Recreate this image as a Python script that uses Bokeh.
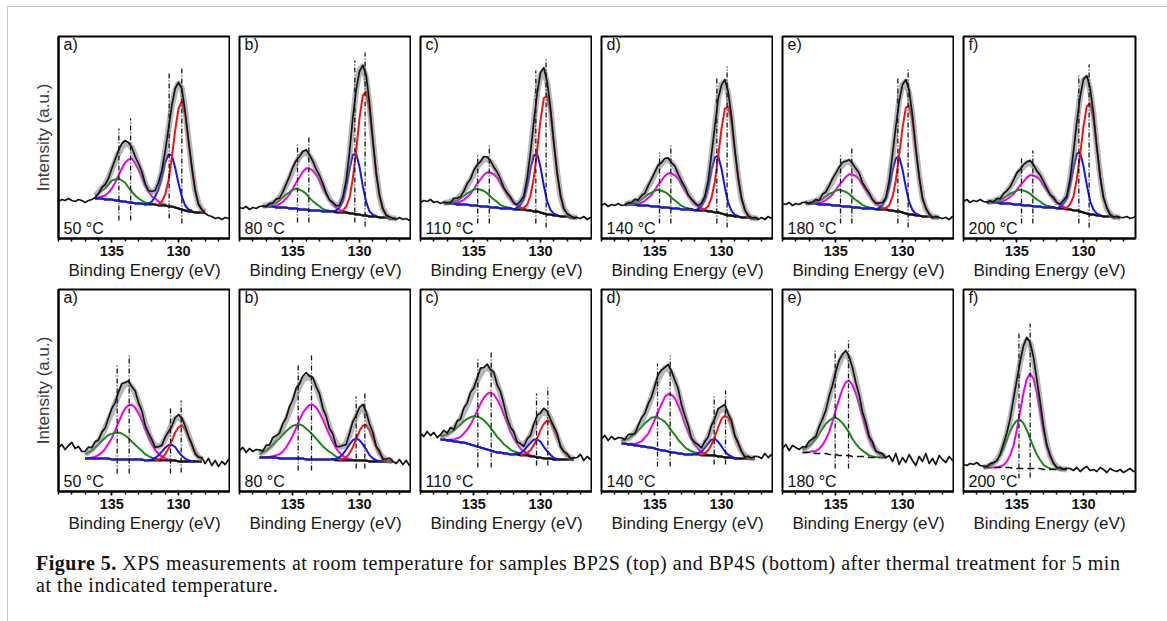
import numpy as np
from bokeh.plotting import figure
from bokeh.layouts import row, column
from bokeh.models import Range1d, FixedTicker, Div
from bokeh.embed import file_html
from bokeh.resources import INLINE
from bokeh.core.properties import value

# ---------------------------------------------------------------- axes / text
STEP = 0.25
X_START, X_END = 139.0, 126.1     # binding-energy axis (reversed)
Y_MAX = 202                       # intensity axis, arbitrary units
MAJOR_TICKS = [135, 130]
MINOR_TICKS = [126, 127, 128, 129, 130, 131, 132, 133, 134, 135, 136, 137, 138, 139]
TAGS = ["a)", "b)", "c)", "d)", "e)", "f)"]
TEMPS = ["50 °C", "80 °C", "110 °C", "140 °C", "180 °C", "200 °C"]
X_LABEL = "Binding Energy (eV)"
Y_LABEL = "Intensity (a.u.)"
CAPTION_HEAD = "Figure 5."
CAPTION_LINE1 = "XPS measurements at room temperature for samples BP2S (top) and BP4S (bottom) after thermal treatment for 5 min"
CAPTION_LINE2 = "at the indicated temperature."

# ============================================================ TOP ROW (BP2S)
# components are heights above the background, on a 0.25 eV grid from *_START
# --- a) 50 C
TA_START = 136.25
TA_BG = [40, 40, 40, 39, 39, 39, 38, 38, 37, 37, 36, 36, 35, 35, 35, 34, 34, 34, 34, 33, 33, 33, 32, 32, 31, 30, 29, 28, 27, 27, 26, 26, 26, 26]
TA_GREEN = [3, 5, 8, 11, 15, 19, 21, 22, 21, 19, 15, 11, 8, 5, 3, 2, 1, 1] + [0] * 16
TA_MAGENTA = [0, 1, 2, 4, 7, 11, 18, 25, 33, 39, 43, 44, 40, 34, 27, 19, 13, 8, 6, 4, 2, 1] + [0] * 12
TA_BLUE = [0] * 16 + [1, 3, 8, 16, 28, 43, 52, 51, 40, 25, 13, 5, 2, 1] + [0] * 4
TA_RED = [0] * 19 + [1, 4, 11, 26, 49, 77, 100, 108, 96, 70, 43, 22, 9, 3, 1]
TA_RESID = [-2, -1, 1, 0, -1, 1, 2, 3, 4, 3, 2, 0, -1, 1, 2, 0, -1, 1, 0, 2, 1, -1, 0, 1, 2, 1, 0, -2, -1, 1, 0, -1, 0, -2]
TA_LEFT = [37, 39, 38, 40, 38, 37, 39, 38, 36, 38, 39]
TA_RIGHT = [23, 22, 20, 21, 19, 21, 20, 19]
TA_PEAKS = [134.47, 133.59, 130.7, 129.75]
TA_PEAK_TOP = [110, 120, 165, 171]
TA_PEAK_BOT = [18, 18, 20, 15]

# --- b) 80 C
TB_START = 137.25
TB_BG = [32, 32, 32, 32, 31, 31, 31, 31, 30, 30, 30, 29, 29, 29, 28, 28, 28, 28, 27, 27, 27, 27, 26, 26, 26, 26, 25, 25, 24, 24, 23, 23, 22, 22, 22, 21, 21, 21, 20, 20, 20]
TB_GREEN = [0.4, 0.8, 1.6, 2.8, 4.6, 7, 10, 13.2, 16.2, 18.6, 19.8, 19.8, 18.2, 15.6, 12.6, 9.4, 6.6, 4.2, 2.5, 1.4, 0.7, 0.4, 0.2, 0.1] + [0] * 17
TB_MAGENTA = [0.1, 0.2, 0.4, 0.9, 1.8, 3.4, 5.7, 9.2, 13.9, 19.7, 26, 32.3, 37.8, 41.2, 42, 39.9, 35.7, 29.8, 23.5, 17.2, 11.8, 7.6, 4.6, 2.6, 1.4, 0.7, 0.3, 0.1] + [0] * 13
TB_BLUE = [0] * 21 + [0.2, 1.9, 5, 11.2, 25.4, 44, 58.9, 60.8, 47.7, 29.1, 13.6, 5, 1.9, 0.6] + [0] * 6
TB_RED = [0] * 23 + [0.5, 1.8, 5.9, 15.6, 35, 63.8, 96.3, 120, 123.8, 106.3, 75, 43.8, 21.3, 8.8, 2.9, 0.8, 0.3, 0]
TB_RESID = [0, -1, 1, 0, 2, -1, 0, 1, 2, 3, 2, 1, 2, 3, 1, 0, -1, 1, 2, 0, -1, 1, 0, -1, 1, 0, 1, 2, 0, -1, 1, 3, 2, 0, -1, 1, 0, -1, 1, 0, -1]
TB_LEFT = [31, 30, 32, 29, 31, 30, 32]
TB_RIGHT = [21, 19, 20, 18, 20]
TB_PEAKS = [134.65, 133.8, 130.35, 129.58]
TB_PEAK_TOP = [95, 103, 178, 186]
TB_PEAK_BOT = [16, 16, 16, 12]

# --- c) 110 C
TC_START = 137.25
TC_BG = [35, 35, 35, 35, 34, 34, 34, 34, 33, 33, 33, 32, 32, 32, 31, 31, 31, 30, 30, 30, 30, 29, 29, 29, 29, 28, 28, 27, 27, 26, 25, 24, 24, 23, 23, 22, 22, 22, 21, 21, 21]
TC_GREEN = [0.4, 0.7, 1.4, 2.4, 3.9, 6, 8.5, 11.2, 13.8, 15.8, 16.8, 16.8, 15.5, 13.3, 10.7, 8, 5.6, 3.6, 2.1, 1.2, 0.6, 0.3, 0.1, 0.1] + [0] * 17
TC_MAGENTA = [0.1, 0.2, 0.4, 0.8, 1.5, 2.8, 4.7, 7.7, 11.6, 16.5, 21.7, 27, 31.5, 34.3, 35, 33.3, 29.8, 24.9, 19.6, 14.4, 9.8, 6.3, 3.9, 2.2, 1.2, 0.6, 0.2, 0.1] + [0] * 13
TC_BLUE = [0] * 21 + [0.2, 1.8, 4.7, 10.6, 24.2, 41.9, 56, 57.8, 45.4, 27.7, 13, 4.7, 1.8, 0.6] + [0] * 6
TC_RED = [0] * 23 + [0.5, 1.7, 5.6, 15, 33.6, 61.2, 92.4, 115.2, 118.8, 102, 72, 42, 20.4, 8.4, 2.8, 0.7, 0.2, 0]
TC_RESID = [1, 0, -1, 2, 1, -1, 0, 2, 1, 3, 2, 1, 3, 2, 1, -1, 0, 1, -1, 0, 1, 0, -1, 1, 0, 2, 1, 0, -1, 2, 3, 1, 0, -1, 0, 1, -1, 0, 1, -1, 0]
TC_LEFT = [36, 38, 37, 39, 36, 37, 35]
TC_RIGHT = [20, 22, 19, 21, 20]
TC_PEAKS = [134.71, 133.84, 130.35, 129.58]
TC_PEAK_TOP = [85, 94, 168, 180]
TC_PEAK_BOT = [15, 15, 15, 11]

# --- d) 140 C
TD_START = 137.25
TD_BG = [34, 34, 34, 34, 33, 33, 33, 33, 32, 32, 32, 31, 31, 31, 30, 30, 30, 29, 29, 29, 29, 28, 28, 28, 28, 27, 27, 26, 26, 25, 24, 23, 23, 22, 22, 21, 21, 21, 20, 20, 20]
TD_GREEN = [0.4, 0.7, 1.4, 2.4, 3.9, 6, 8.5, 11.2, 13.8, 15.8, 16.8, 16.8, 15.5, 13.3, 10.7, 8, 5.6, 3.6, 2.1, 1.2, 0.6, 0.3, 0.1, 0.1] + [0] * 17
TD_MAGENTA = [0.1, 0.2, 0.4, 0.8, 1.5, 2.8, 4.7, 7.7, 11.6, 16.5, 21.7, 27, 31.5, 34.3, 35, 33.3, 29.8, 24.9, 19.6, 14.4, 9.8, 6.3, 3.9, 2.2, 1.2, 0.6, 0.2, 0.1] + [0] * 13
TD_BLUE = [0] * 21 + [0.2, 1.7, 4.6, 10.4, 23.8, 41.2, 55.1, 56.8, 44.7, 27.3, 12.8, 4.6, 1.7, 0.6] + [0] * 6
TD_RED = [0] * 23 + [0.4, 1.5, 5.2, 13.8, 30.8, 56.1, 84.7, 105.6, 108.9, 93.5, 66, 38.5, 18.7, 7.7, 2.5, 0.7, 0.2, 0]
TD_RESID = [-1, 1, 0, 2, 0, 1, -1, 1, 2, 2, 3, 1, 2, 2, 0, 1, -1, 0, 1, -1, 0, 1, -1, 0, 1, 1, 2, 0, 1, -1, 2, 2, 1, -1, 0, 1, 0, -1, 0, 1, -1]
TD_LEFT = [33, 35, 32, 34, 33, 35, 33]
TD_RIGHT = [21, 19, 22, 20, 21]
TD_PEAKS = [134.65, 133.8, 130.35, 129.58]
TD_PEAK_TOP = [86, 94, 160, 172]
TD_PEAK_BOT = [15, 15, 15, 11]

# --- e) 180 C
TE_START = 137.25
TE_BG = [35, 35, 35, 35, 34, 34, 34, 34, 33, 33, 33, 32, 32, 32, 31, 31, 31, 30, 30, 30, 30, 29, 29, 29, 29, 28, 28, 27, 27, 26, 25, 24, 24, 23, 23, 22, 22, 22, 21, 21, 21]
TE_GREEN = [0.3, 0.7, 1.3, 2.2, 3.7, 5.6, 8, 10.6, 13, 14.9, 15.8, 15.8, 14.6, 12.5, 10.1, 7.5, 5.3, 3.4, 2, 1.1, 0.6, 0.3, 0.1, 0] + [0] * 17
TE_MAGENTA = [0.1, 0.2, 0.3, 0.7, 1.4, 2.6, 4.5, 7.3, 10.9, 15.5, 20.5, 25.4, 29.7, 32.3, 33, 31.4, 28.1, 23.4, 18.5, 13.5, 9.2, 5.9, 3.6, 2.1, 1.1, 0.5, 0.2, 0.1] + [0] * 13
TE_BLUE = [0] * 21 + [0.2, 1.7, 4.5, 10.1, 23, 39.8, 53.2, 54.9, 43.1, 26.3, 12.3, 4.5, 1.7, 0.6] + [0] * 6
TE_RED = [0] * 23 + [0.4, 1.5, 5.2, 13.8, 30.8, 56.1, 84.7, 105.6, 108.9, 93.5, 66, 38.5, 18.7, 7.7, 2.5, 0.7, 0.2, 0]
TE_RESID = [1, -1, 0, 1, -1, 2, 0, 1, 3, 2, 2, 3, 1, 2, 1, 0, 1, -1, 0, 1, -1, 0, 1, 0, -1, 1, 2, 1, -1, 0, 2, 3, 1, -1, 0, -1, 1, 0, -1, 1, 0]
TE_LEFT = [35, 34, 36, 33, 35, 34, 36]
TE_RIGHT = [20, 21, 19, 22, 20]
TE_PEAKS = [134.65, 133.8, 130.35, 129.58]
TE_PEAK_TOP = [84, 92, 160, 170]
TE_PEAK_BOT = [15, 15, 15, 11]

# --- f) 200 C
TF_START = 137.25
TF_BG = [36, 36, 36, 36, 35, 35, 35, 35, 34, 34, 34, 33, 33, 33, 32, 32, 32, 31, 31, 31, 31, 30, 30, 30, 29, 29, 28, 28, 27, 26, 25, 24, 24, 23, 23, 22, 22, 22, 21, 21, 21]
TF_GREEN = [0.3, 0.6, 1.2, 2.1, 3.5, 5.3, 7.5, 9.9, 12.2, 14, 14.9, 14.9, 13.7, 11.7, 9.5, 7.1, 5, 3.2, 1.9, 1.1, 0.6, 0.3, 0.1, 0] + [0] * 17
TF_MAGENTA = [0.1, 0.2, 0.3, 0.7, 1.3, 2.5, 4.2, 6.8, 10.2, 14.6, 19.2, 23.9, 27.9, 30.4, 31, 29.5, 26.4, 22, 17.4, 12.7, 8.7, 5.6, 3.4, 2, 1, 0.5, 0.2, 0.1] + [0] * 13
TF_BLUE = [0] * 21 + [0.2, 1.8, 4.8, 10.8, 24.6, 42.6, 57, 58.8, 46.2, 28.2, 13.2, 4.8, 1.8, 0.6] + [0] * 6
TF_RED = [0] * 23 + [0.4, 1.6, 5.3, 14, 31.4, 57.1, 86.2, 107.5, 110.9, 95.2, 67.2, 39.2, 19, 7.8, 2.6, 0.7, 0.2, 0]
TF_RESID = [0, 1, -1, 1, 0, 2, 1, 0, 2, 3, 1, 2, 2, 3, 1, -1, 0, 1, 0, -1, 1, 0, -1, 1, 0, 1, 2, 0, -1, 1, 2, 2, 1, 0, -1, 0, 1, -1, 0, 1, 0]
TF_LEFT = [37, 39, 36, 38, 37, 39, 37]
TF_RIGHT = [21, 22, 20, 21, 23]
TF_PEAKS = [134.65, 133.8, 130.35, 129.58]
TF_PEAK_TOP = [80, 88, 164, 174]
TF_PEAK_BOT = [15, 15, 15, 11]

# ========================================================= BOTTOM ROW (BP4S)
# --- a) 50 C
BA_START = 137.0
BA_BG = [33, 33, 33, 33, 33, 33, 33, 33, 32, 32, 32, 32, 32, 32, 32, 32, 32, 32, 31, 31, 31, 31, 31, 31, 31, 31, 31, 31, 30, 30, 30, 30, 30, 30, 30, 30]
BA_GREEN = [4, 6, 8, 11, 14, 17.5, 20.8, 23.5, 25.6, 26.8, 27, 26, 24, 21.3, 18, 14.8, 11.6, 8.7, 6.3, 4.4, 2.9, 1.8, 1.1, 0.7, 0.4, 0.2, 0.1] + [0] * 9
BA_MAGENTA = [0.2, 0.5, 0.9, 1.9, 3.4, 5.9, 9.7, 14.9, 21.5, 29.1, 37.2, 44.9, 51, 54.4, 54.7, 51.8, 46.3, 39.2, 30.8, 22.8, 16, 10.5, 6.6, 3.9, 2.1, 1.1, 0.5, 0.2, 0.1] + [0] * 7
BA_BLUE = [0] * 19 + [0.3, 1, 2.5, 5.1, 8.8, 12.8, 15.5, 15.8, 13.5, 9.6, 5.7, 2.9, 1.2, 0.4, 0.1] + [0] * 2
BA_RED = [0] * 21 + [0.3, 1, 2.7, 6.1, 11.9, 19.8, 28, 34.2, 36, 32.3, 25, 16.2, 9.3, 4.5, 1.9]
BA_RESID = [3, 5, 2, 4, 1, 3, 0, 2, 4, 1, 3, 5, 2, 3, 0, 2, -1, 1, -2, 0, 1, -2, 0, -1, 2, 0, -2, 1, 3, 2, 0, -1, 1, -2, 0, 2]
BA_LEFT = [44, 47, 42, 46, 49, 43, 45, 40]
BA_RIGHT = [28, 33, 26, 31, 25, 30, 27, 32, 29]
BA_PEAKS = [134.6, 133.7, 130.6, 129.8]
BA_PEAK_TOP = [126, 136, 85, 91]
BA_PEAK_BOT = [18, 18, 18, 19]

# --- b) 80 C
BB_START = 137.5
BB_BG = [34, 34, 34, 34, 34, 34, 33, 33, 33, 33, 33, 33, 33, 33, 32, 32, 32, 32, 32, 32, 32, 32, 32, 31, 31, 31, 31, 31, 31, 31, 31, 31, 31, 30, 30, 30, 30, 30, 30, 30, 30]
BB_GREEN = [3.5, 5.1, 7.1, 9.8, 12.8, 16.3, 20, 23.8, 27.3, 30.3, 32.6, 33.8, 34, 32.9, 30.8, 27.9, 24.5, 20.8, 17, 13.3, 10.2, 7.5, 5.5, 3.8, 2.5, 1.6, 1, 0.6, 0.4, 0.2, 0.1] + [0] * 10
BB_MAGENTA = [0.1, 0.2, 0.3, 0.7, 1.3, 2.4, 4.3, 7.1, 11.2, 16.6, 23.1, 30.6, 38.6, 45.6, 51.2, 54.5, 54.8, 52.1, 46.8, 39.9, 32.2, 24.5, 17.6, 12, 7.7, 4.7, 2.7, 1.5, 0.8, 0.4, 0.2, 0.1] + [0] * 9
BB_BLUE = [0] * 22 + [0.5, 1.4, 3.2, 6.4, 11, 16.1, 20.4, 22, 20.4, 16.1, 11, 6.4, 3.2, 1.4, 0.5, 0.2] + [0] * 3
BB_RED = [0] * 24 + [0.4, 1.3, 3.2, 7.1, 13.3, 21.3, 29.5, 35, 35.6, 31, 23.1, 14.8, 8.1, 3.8, 1.5, 0.5, 0.2]
BB_RESID = [4, 1, 5, 2, 6, 3, 1, 4, 2, 5, 3, 6, 2, 4, 5, 1, 3, 0, 2, -2, 1, -1, 2, -3, 0, 1, -2, 2, 4, 1, 3, 5, 2, 0, 3, -1, 2, -2, 1, 3, 0]
BB_LEFT = [41, 44, 39, 43, 40, 42]
BB_RIGHT = [28, 32, 27, 31, 26, 30]
BB_PEAKS = [134.6, 133.6, 130.25, 129.6]
BB_PEAK_TOP = [128, 136, 95, 100]
BB_PEAK_BOT = [21, 21, 23, 23]

# --- c) 110 C
BC_START = 137.5
BC_BG = [52, 52, 51, 51, 50, 50, 49, 49, 48, 47, 46, 45, 44, 43, 42, 41, 40, 39, 39, 38, 38, 37, 37, 37, 36, 36, 36, 35, 35, 34, 34, 33, 33, 33, 32, 32, 32, 32, 32, 32, 32]
BC_GREEN = [2.7, 4, 5.9, 8.2, 11.1, 14.3, 17.8, 21.4, 24.6, 27.3, 29.2, 30, 29.6, 28.2, 25.8, 22.8, 19.3, 15.6, 12.3, 9.3, 6.8, 4.7, 3.2, 2, 1.3, 0.8, 0.5, 0.3, 0.1] + [0] * 12
BC_MAGENTA = [0.1, 0.2, 0.5, 0.9, 1.8, 3.3, 5.6, 9, 13.8, 19.9, 27.4, 35.6, 43.7, 50.8, 55.7, 58, 57, 53, 46.7, 38.9, 30.6, 22.8, 16.1, 10.7, 6.8, 4.1, 2.3, 1.2, 0.6, 0.3, 0.1] + [0] * 10
BC_BLUE = [0] * 22 + [0.3, 0.9, 2.4, 5, 9, 13.6, 17, 18, 15.8, 11.7, 7.3, 3.8, 1.6, 0.6, 0.2] + [0] * 4
BC_RED = [0] * 24 + [0.4, 1.1, 2.8, 6.1, 11.5, 19, 27.5, 34.5, 38, 36.4, 30.5, 22.4, 14.3, 8, 3.9, 1.7, 0.6]
BC_RESID = [2, 5, 1, 4, -1, 3, 0, 4, 2, 5, 1, 3, 6, 2, 4, 0, 3, -1, 2, 1, -2, 0, 3, -1, 1, -2, 2, 0, 3, 5, 1, 4, 2, -1, 1, 3, -2, 0, 2, -1, 1]
BC_LEFT = [58, 55, 60, 56, 59, 54]
BC_RIGHT = [34, 37, 31, 35, 32, 36]
BC_PEAKS = [134.7, 133.7, 130.3, 129.45]
BC_PEAK_TOP = [132, 140, 98, 104]
BC_PEAK_BOT = [24, 24, 26, 26]

# --- d) 140 C
BD_START = 137.5
BD_BG = [48, 48, 47, 47, 46, 46, 45, 45, 44, 44, 43, 42, 41, 41, 40, 39, 39, 38, 38, 37, 37, 37, 37, 37, 36, 36, 36, 36, 36, 35, 35, 34, 34, 34, 33, 33, 33, 33, 33, 33, 33]
BD_GREEN = [2.4, 3.8, 5.8, 8.4, 11.6, 15.1, 19.3, 23.2, 26.9, 29.8, 31.6, 32, 31, 28.8, 25.6, 21.8, 17.7, 13.7, 10.1, 7.3, 5, 3.2, 2, 1.2, 0.7, 0.4, 0.2, 0.1] + [0] * 13
BD_MAGENTA = [0.1, 0.1, 0.3, 0.7, 1.4, 2.8, 5.2, 8.8, 13.7, 20.6, 29, 38, 46.4, 53.4, 57.4, 57.7, 54.5, 48.1, 39.7, 30.7, 22.4, 15.2, 9.6, 5.7, 3.2, 1.7, 0.8, 0.4, 0.2, 0.1] + [0] * 11
BD_BLUE = [0] * 22 + [0.5, 1.6, 3.9, 7.6, 12.2, 15.9, 16.9, 14.7, 10.3, 6, 2.8, 1.1, 0.4, 0.1] + [0] * 5
BD_RED = [0] * 23 + [0.2, 0.8, 2.2, 5.3, 10.8, 18.9, 29, 37.6, 42, 39.9, 32.8, 23.1, 13.9, 7.1, 3.2, 1.2, 0.4, 0.1]
BD_RESID = [3, 0, 4, 1, -1, 2, 4, 1, 3, 0, 2, 5, 3, 1, 4, 2, 0, 3, -1, 1, 2, -2, 0, 1, -1, 2, 0, 3, 1, 4, 2, 5, 1, 3, -1, 2, 0, -2, 1, 0, 2]
BD_LEFT = [53, 56, 51, 55, 52, 54]
BD_RIGHT = [35, 33, 38, 34, 37, 35]
BD_PEAKS = [134.8, 133.85, 130.55, 129.7]
BD_PEAK_TOP = [128, 136, 95, 101]
BD_PEAK_BOT = [25, 25, 27, 27]

# --- e) 180 C
BE_START = 137.5
BE_BG = [39, 39, 39, 39, 38, 38, 38, 38, 37, 37, 37, 36, 36, 36, 36, 35, 35, 35, 35, 35, 34, 34, 34, 34, 34, 34]
BE_GREEN = [2.6, 4.3, 6.8, 10.3, 14.6, 19.5, 24.8, 29.8, 33.8, 36.3, 37, 35.6, 32.4, 27.9, 22.7, 17.5, 12.7, 8.8, 5.7, 3.6, 2.1, 1.1, 0.6, 0.3, 0.1, 0]
BE_MAGENTA = [0.1, 0.2, 0.5, 1.2, 2.4, 4.7, 8.6, 14.3, 22.6, 33, 45, 56.6, 66.7, 73.3, 75, 71.3, 63.1, 51.8, 39.9, 28.4, 18.9, 11.6, 6.8, 3.6, 1.8, 0.8]
BE_RESID = [3, 1, 4, 2, 0, 3, 1, -1, 2, 0, 1, 3, 2, 4, 1, 0, -2, 1, -1, 2, 0, 3, -1, 1, 2, -1]
BE_LEFT = [43, 47, 41, 46, 44, 42]
BE_RIGHT = [36, 30, 38, 27, 34, 29, 37, 31, 26, 35, 30, 38, 28, 33, 27, 36, 32, 29, 35, 31, 34]
BE_PEAKS = [135.05, 134.05]
BE_PEAK_TOP = [143, 153]
BE_PEAK_BOT = [23, 23]

# --- f) 200 C
BF_START = 137.5
BF_BG = [24, 24, 24, 24, 24, 24, 24, 24, 24, 23, 23, 23, 23, 23, 23, 23, 23, 23, 22, 22, 22, 22, 22, 22, 22, 22]
BF_GREEN = [0.4, 0.9, 1.9, 3.9, 7.3, 12.3, 19.3, 27.6, 36.2, 43.6, 48.1, 48.7, 45.2, 38.5, 30, 21.5, 14.1, 8.5, 4.7, 2.4, 1.1, 0.5, 0.2, 0.1, 0, 0]
BF_MAGENTA = [0, 0, 0, 0.1, 0.3, 0.9, 2.5, 5.9, 12.4, 23, 38.5, 57.2, 75.7, 89.7, 95, 89.7, 75.7, 57.2, 38.5, 23, 12.4, 5.9, 2.5, 0.9, 0.3, 0.1]
BF_RESID = [1, 0, 2, 1, -1, 0, 2, 1, 0, 3, 2, 1, 2, 3, 1, 0, -1, 1, 0, -1, 1, 0, -1, 1, 0, 1]
BF_LEFT = [27, 26, 28, 27, 29, 26]
BF_RIGHT = [23, 21, 24, 20, 23, 25, 21, 22, 20, 24, 22, 19, 23, 21, 20, 22, 19, 21, 23, 20, 21]
BF_PEAKS = [134.84, 134.0]
BF_PEAK_TOP = [158, 168]
BF_PEAK_BOT = [13, 14]

# ------------------------------------------------------------------ styling
GREEN, MAGENTA, BLUE, RED = "#178a17", "#f000f0", "#1414ff", "#ff1010"
FONT = "Liberation Sans"
FRAME_W, FRAME_H = 172, 202


def spec(start, bg, green, magenta, blue, red, resid, left, right, peaks, ptop, pbot, dashed_bg=False):
    return dict(start=start, bg=bg, green=green, magenta=magenta, blue=blue, red=red, resid=resid,
                left=left, right=right, peaks=peaks, ptop=ptop, pbot=pbot, dashed_bg=dashed_bg)


TOP = [
    spec(TA_START, TA_BG, TA_GREEN, TA_MAGENTA, TA_BLUE, TA_RED, TA_RESID, TA_LEFT, TA_RIGHT, TA_PEAKS, TA_PEAK_TOP, TA_PEAK_BOT),
    spec(TB_START, TB_BG, TB_GREEN, TB_MAGENTA, TB_BLUE, TB_RED, TB_RESID, TB_LEFT, TB_RIGHT, TB_PEAKS, TB_PEAK_TOP, TB_PEAK_BOT),
    spec(TC_START, TC_BG, TC_GREEN, TC_MAGENTA, TC_BLUE, TC_RED, TC_RESID, TC_LEFT, TC_RIGHT, TC_PEAKS, TC_PEAK_TOP, TC_PEAK_BOT),
    spec(TD_START, TD_BG, TD_GREEN, TD_MAGENTA, TD_BLUE, TD_RED, TD_RESID, TD_LEFT, TD_RIGHT, TD_PEAKS, TD_PEAK_TOP, TD_PEAK_BOT),
    spec(TE_START, TE_BG, TE_GREEN, TE_MAGENTA, TE_BLUE, TE_RED, TE_RESID, TE_LEFT, TE_RIGHT, TE_PEAKS, TE_PEAK_TOP, TE_PEAK_BOT),
    spec(TF_START, TF_BG, TF_GREEN, TF_MAGENTA, TF_BLUE, TF_RED, TF_RESID, TF_LEFT, TF_RIGHT, TF_PEAKS, TF_PEAK_TOP, TF_PEAK_BOT),
]
BOTTOM = [
    spec(BA_START, BA_BG, BA_GREEN, BA_MAGENTA, BA_BLUE, BA_RED, BA_RESID, BA_LEFT, BA_RIGHT, BA_PEAKS, BA_PEAK_TOP, BA_PEAK_BOT),
    spec(BB_START, BB_BG, BB_GREEN, BB_MAGENTA, BB_BLUE, BB_RED, BB_RESID, BB_LEFT, BB_RIGHT, BB_PEAKS, BB_PEAK_TOP, BB_PEAK_BOT),
    spec(BC_START, BC_BG, BC_GREEN, BC_MAGENTA, BC_BLUE, BC_RED, BC_RESID, BC_LEFT, BC_RIGHT, BC_PEAKS, BC_PEAK_TOP, BC_PEAK_BOT),
    spec(BD_START, BD_BG, BD_GREEN, BD_MAGENTA, BD_BLUE, BD_RED, BD_RESID, BD_LEFT, BD_RIGHT, BD_PEAKS, BD_PEAK_TOP, BD_PEAK_BOT),
    spec(BE_START, BE_BG, BE_GREEN, BE_MAGENTA, None, None, BE_RESID, BE_LEFT, BE_RIGHT, BE_PEAKS, BE_PEAK_TOP, BE_PEAK_BOT, True),
    spec(BF_START, BF_BG, BF_GREEN, BF_MAGENTA, None, None, BF_RESID, BF_LEFT, BF_RIGHT, BF_PEAKS, BF_PEAK_TOP, BF_PEAK_BOT, True),
]


def make_panel(s, col, top_row):
    p = figure(frame_width=FRAME_W, frame_height=FRAME_H,
               x_range=Range1d(X_START, X_END), y_range=Range1d(0, Y_MAX),
               output_backend="svg", toolbar_location=None,
               min_border_left=50 if col == 0 else 9,
               min_border_right=24 if col == 5 else 0,
               min_border_top=29 if top_row else 5,
               min_border_bottom=46 if top_row else 50)
    p.background_fill_color = "white"
    p.border_fill_color = "white"
    p.outline_line_color = "black"
    p.outline_line_width = 2
    p.outline_line_alpha = 1
    p.xgrid.visible = False
    p.ygrid.visible = False

    ax = p.xaxis[0]
    ax.ticker = FixedTicker(ticks=MAJOR_TICKS, minor_ticks=MINOR_TICKS)
    ax.axis_line_width = 2
    ax.major_tick_line_width = 1.5
    ax.minor_tick_line_width = 1.5
    ax.major_tick_in = 0
    ax.major_tick_out = 4
    ax.minor_tick_in = 0
    ax.minor_tick_out = 3
    ax.major_label_text_font = FONT
    ax.major_label_text_font_style = "bold"
    ax.major_label_text_font_size = "14.5px"
    ax.major_label_text_color = "#111111"
    ax.major_label_standoff = 3
    ax.axis_label = X_LABEL
    ax.axis_label_text_font = FONT
    ax.axis_label_text_font_style = "normal"
    ax.axis_label_text_font_size = "17px"
    ax.axis_label_text_color = "#1a1a1a"
    ax.axis_label_standoff = 2

    ay = p.yaxis[0]
    if col == 0:
        ay.ticker = FixedTicker(ticks=[])
        ay.major_tick_line_color = None
        ay.minor_tick_line_color = None
        ay.axis_line_width = 2
        ay.axis_label = Y_LABEL
        ay.axis_label_text_font = FONT
        ay.axis_label_text_font_style = "normal"
        ay.axis_label_text_font_size = "17px"
        ay.axis_label_text_color = "#3a3a3a"
        ay.axis_label_standoff = 6
    else:
        ay.visible = False

    n = len(s["bg"])
    xf = s["start"] - STEP * np.arange(n)
    bg = np.asarray(s["bg"], float)
    g = np.asarray(s["green"], float)
    m = np.asarray(s["magenta"], float)
    env = bg + g + m
    b = r = None
    if s["blue"] is not None:
        b = np.asarray(s["blue"], float)
        r = np.asarray(s["red"], float)
        env = env + b + r

    # components on the background
    p.line(xf, bg + m, line_color=MAGENTA, line_width=2, line_join="round")
    p.line(xf, bg + g, line_color=GREEN, line_width=2, line_join="round")
    if b is not None:
        p.line(xf, bg, line_color="#111111", line_width=2)
        nzb = np.nonzero(b)[0]
        ib = nzb[-1] + 1
        p.line(xf[:ib], (bg + b)[:ib], line_color=BLUE, line_width=2, line_join="round")
        nzr = np.nonzero(r)[0]
        ir0, ir1 = nzr[0], nzr[-1] + 1
        p.line(xf[ir0:ir1], (bg + r)[ir0:ir1], line_color=RED, line_width=2, line_join="round")
    else:
        p.line(xf, bg, line_color="#111111", line_width=1.6, line_dash="7 4")

    # fit envelope (semi transparent grey band)
    p.line(xf, env, line_color="#7c7c7c", line_alpha=0.55, line_width=6, line_join="round")

    # measured spectrum
    left = np.asarray(s["left"], float)
    right = np.asarray(s["right"], float)
    xl = s["start"] + STEP * np.arange(len(left), 0, -1)
    xr = xf[-1] - STEP * np.arange(1, len(right) + 1)
    xd = np.concatenate([xl, xf, xr])
    yd = np.concatenate([left, env + np.asarray(s["resid"], float), right])
    p.line(xd, yd, line_color="#141414", line_width=1.7, line_join="round")

    # peak position markers
    p.segment(x0=s["peaks"], y0=s["pbot"], x1=s["peaks"], y1=s["ptop"],
              line_color="#151515", line_width=1.3, line_dash="5 2 1 2")

    p.text(x=[X_START - 0.38], y=[Y_MAX - 8], text=[TAGS[col]], text_font=value(FONT),
           text_font_size="16px", text_baseline="middle", text_align="left", text_color="#111111")
    p.text(x=[X_START - 0.38], y=[10.5], text=[TEMPS[col]], text_font=value(FONT),
           text_font_size="16px", text_baseline="middle", text_align="left", text_color="#111111")
    return p


top_row = row([make_panel(s, i, True) for i, s in enumerate(TOP)], spacing=0)
bottom_row = row([make_panel(s, i, False) for i, s in enumerate(BOTTOM)], spacing=0)

caption = Div(
    text=(f"<div style=\"font-family:'Liberation Serif',serif;font-size:20px;letter-spacing:0.5px;"
          f"line-height:22px;color:#111;white-space:nowrap;padding:6px 0 0 23px;\">"
          f"<b>{CAPTION_HEAD}</b> {CAPTION_LINE1}<br>{CAPTION_LINE2}</div>"),
    width=1150, height=70)

layout = column([top_row, bottom_row, caption], spacing=0,
                styles={"margin-left": "7px", "margin-top": "6px",
                        "border-top": "1px solid #c4c4c4", "border-left": "1px solid #c4c4c4"})

with open("out.html", "w", encoding="utf-8") as fh:
    fh.write(file_html(layout, INLINE))
